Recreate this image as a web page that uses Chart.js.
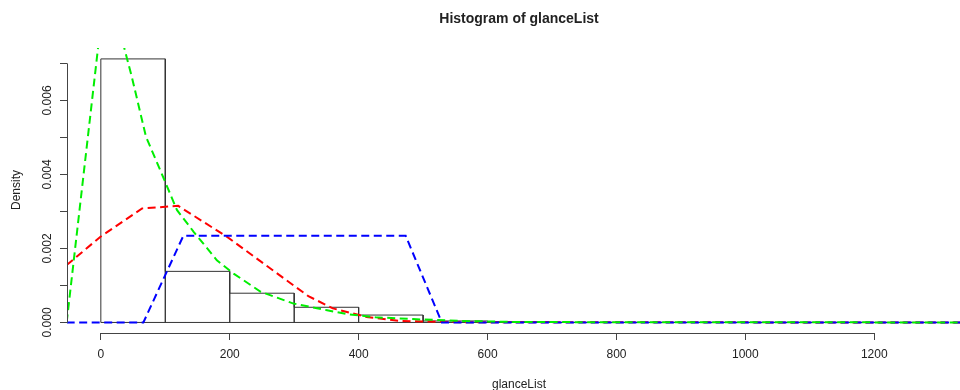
<!DOCTYPE html>
<html>
<head>
<meta charset="utf-8">
<script src="https://cdn.jsdelivr.net/npm/chart.js@4.4.1/dist/chart.umd.min.js"></script>
<style>
  html, body { margin: 0; padding: 0; background: #fff; }
  canvas { display: block; }
</style>
</head>
<body>
<canvas id="grafico" width="960" height="390"></canvas>
<script>

  /*
    ==================================================
    ====================== DATA ======================
    ==================================================
  */

  // histogram of glanceList (density scale)
  let breaks = [0, 100, 200, 300, 400, 500, 600, 700, 800, 900, 1000, 1100, 1200, 1300];
  let density = [0.00712, 0.00138, 0.00079, 0.00041, 0.00020, 0.00004, 0.00002, 0, 0, 0, 0, 0, 0];

  // red dashed curve
  let redX = [-53, -1, 64, 120, 196, 322, 360, 412, 465, 560, 1340];
  let redY = [0.00155, 0.00231, 0.00308, 0.00315, 0.00231, 0.00071, 0.00038, 0.00015, 0.00004, 0.000005, 0];

  // green dashed curve
  let greenX = [-53, 8, 48, 70, 92, 118, 144, 180, 206, 248, 299, 351, 384, 426, 484, 560, 650, 1340];
  let greenY = [0, 0.0093, 0.00664, 0.00502, 0.00412, 0.00304, 0.00245, 0.00168, 0.00132, 0.00083, 0.00051, 0.00033, 0.00022, 0.00014, 0.00009, 0.00004, 0.00001, 0];

  // blue dashed curve
  let blueX = [-53, 66, 128, 473, 529, 1340];
  let blueY = [0, 0, 0.00234, 0.00234, 0, 0];

  // axis ticks
  let xTicks = [0, 200, 400, 600, 800, 1000, 1200];
  let yTicks = [0, 0.001, 0.002, 0.003, 0.004, 0.005, 0.006, 0.007];

  let xMin = -52.5, xMax = 1333;
  let yMin = -0.000285, yMax = 0.007415;

  /*
    ==================================================
    ===================== HELPERS =====================
    ==================================================
  */

  let toPoints = (xs, ys) => xs.map((x, i) => ({ x, y: ys[i] }));

  function histOutline(b, d) {
    let pts = [{ x: b[0], y: 0 }];
    d.forEach((h, i) => {
      pts.push({ x: b[i], y: h }, { x: b[i + 1], y: h }, { x: b[i + 1], y: 0 });
    });
    pts.push({ x: b[0], y: 0 });
    return pts;
  }

  let fontFam = "'Liberation Sans', Arial, sans-serif";
  let ink = '#222';
  let axisInk = '#444';

  let curve = (data, color) => ({
    data,
    borderColor: color,
    borderWidth: 2,
    borderDash: [8, 4.5],
    pointRadius: 0,
    tension: 0,
    fill: false
  });

  /*
    ==================================================
    ================ AXES + TITLES ===================
    ==================================================
  */

  let rAxes = {
    id: 'rAxes',
    afterDraw(chart) {
      let { ctx, chartArea, scales: { x, y } } = chart;
      ctx.save();

      // axis lines only span the tick range, like base R
      ctx.strokeStyle = axisInk;
      ctx.lineWidth = 1;
      ctx.beginPath();
      let by = Math.round(chartArea.bottom) + 0.5;
      ctx.moveTo(x.getPixelForValue(xTicks[0]), by);
      ctx.lineTo(x.getPixelForValue(xTicks[xTicks.length - 1]), by);
      let lx = Math.round(chartArea.left) + 0.5;
      ctx.moveTo(lx, y.getPixelForValue(yTicks[0]));
      ctx.lineTo(lx, y.getPixelForValue(yTicks[yTicks.length - 1]));
      ctx.stroke();

      ctx.fillStyle = ink;
      ctx.textAlign = 'center';
      ctx.textBaseline = 'alphabetic';

      ctx.font = `bold 14px ${fontFam}`;
      ctx.fillText('Histogram of glanceList', 519, 23);

      ctx.font = `12px ${fontFam}`;
      ctx.fillText('glanceList', 519, 388);

      ctx.translate(20, 190);
      ctx.rotate(-Math.PI / 2);
      ctx.fillText('Density', 0, 0);

      ctx.restore();
    }
  };

  /*
    ==================================================
    ====================== CHART ======================
    ==================================================
  */

  new Chart(document.getElementById('grafico').getContext('2d'), {
    type: 'line',
    data: {
      datasets: [
        curve(toPoints(greenX, greenY), '#00ee00'),
        curve(toPoints(blueX, blueY), '#0000ff'),
        curve(toPoints(redX, redY), '#ff0000'),
        {
          data: histOutline(breaks, density),
          borderColor: '#333',
          borderWidth: 1,
          pointRadius: 0,
          tension: 0,
          fill: false
        }
      ]
    },
    options: {
      responsive: false,
      animation: false,
      events: [],
      layout: { padding: { top: 48, left: 0, right: 0, bottom: 0 } },
      plugins: { legend: { display: false }, tooltip: { enabled: false }, title: { display: false } },
      scales: {
        x: {
          type: 'linear',
          min: xMin,
          max: xMax,
          bounds: 'data',
          border: { display: false },
          grid: { drawOnChartArea: false, drawTicks: true, tickLength: 7, color: axisInk },
          afterBuildTicks: s => { s.ticks = xTicks.map(v => ({ value: v })); },
          afterFit: s => { s.height = 57; },
          ticks: {
            autoSkip: false,
            maxRotation: 0,
            padding: 7,
            color: ink,
            font: { family: fontFam, size: 12 },
            callback: v => String(v)
          }
        },
        y: {
          type: 'linear',
          min: yMin,
          max: yMax,
          bounds: 'data',
          border: { display: false },
          grid: { drawOnChartArea: false, drawTicks: true, tickLength: 7, color: axisInk },
          afterBuildTicks: s => { s.ticks = yTicks.map(v => ({ value: v })); },
          afterFit: s => { s.width = 67; },
          ticks: {
            autoSkip: false,
            minRotation: 90,
            maxRotation: 90,
            crossAlign: 'center',
            padding: -3,
            color: ink,
            font: { family: fontFam, size: 12 },
            callback: (v, i) => i % 2 ? '' : v.toFixed(3)
          }
        }
      }
    },
    plugins: [rAxes]
  });

</script>
</body>
</html>
